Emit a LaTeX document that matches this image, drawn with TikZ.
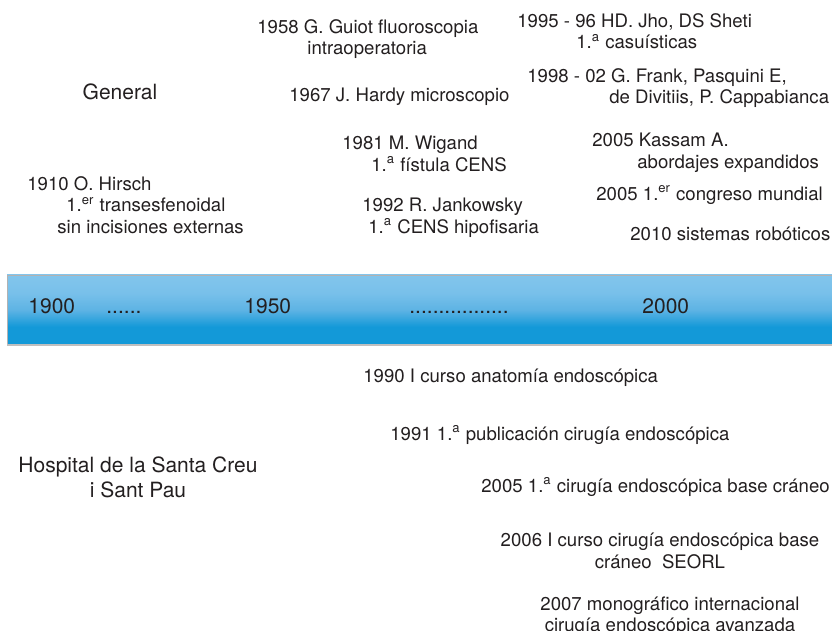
\documentclass[tikz,border=0pt]{standalone}
\usepackage{fontspec}
\setmainfont{TeX Gyre Heros}
\definecolor{inkblack}{HTML}{231F20}
\definecolor{bandtop}{HTML}{82C5EC}
\definecolor{bandlight}{HTML}{78C0EA}
\definecolor{bandmid}{HTML}{5DB3E4}
\definecolor{banddark}{HTML}{1399D8}
\pgfdeclareverticalshading{bandshade}{100bp}{color(0bp)=(banddark); color(38bp)=(banddark); color(50bp)=(bandmid); color(62bp)=(bandlight); color(75bp)=(bandtop); color(100bp)=(bandtop)}
\begin{document}
\begin{tikzpicture}[x=0.5pt, y=-0.5pt, inner sep=0pt]
\tikzstyle{event_style} = [anchor=north west, align=left, text=inkblack, font=\fontsize{9.3}{10.75}\selectfont]
\tikzstyle{centre_style} = [anchor=north, align=center, text=inkblack, font=\fontsize{9.3}{10.75}\selectfont]
\tikzstyle{head_style} = [anchor=north, align=center, text=inkblack, font=\fontsize{10.5}{12.5}\selectfont]
\tikzstyle{year_style} = [anchor=base west, text=inkblack, font=\fontsize{10.5}{12}\selectfont]

\useasboundingbox (0,0) rectangle (832,631);

% timeline band
\shade[shading=bandshade] (7,275) rectangle (832,345);
\draw[black!30, line width=0.4pt] (7,345) -- (7,275) -- (832,275);
\draw[black!25, line width=0.6pt] (7,345) -- (832,345);

\node[year_style] (y1900) at (28,314) {1900};
\node[year_style] (dots1) at (106,314) {......};
\node[year_style] (y1950) at (244,314) {1950};
\node[year_style] (dots2) at (409,314) {.................};
\node[year_style] (y2000) at (642,314) {2000};

% general
\node[head_style] (general) at (120,83) {General};
\node[event_style] (hirsch) at (27,176) {1910 O. Hirsch\\\hspace*{19.5pt}1.\textsuperscript{er} transesfenoidal\\\hspace*{15pt}sin incisiones externas};
\node[event_style] (guiot) at (257,19) {1958 G. Guiot fluoroscopia\\\hspace*{25pt}intraoperatoria};
\node[event_style] (hardy) at (289,88) {1967 J. Hardy microscopio};
\node[event_style] (wigand) at (342,136) {1981 M. Wigand\\\hspace*{14.5pt}1.\textsuperscript{a} fístula CENS};
\node[event_style] (jankowsky) at (362,198) {1992 R. Jankowsky\\\hspace*{3pt}1.\textsuperscript{a} CENS hipofisaria};
\node[event_style] (jho) at (517,13) {1995 - 96 HD. Jho, DS Sheti\\\hspace*{29.5pt}1.\textsuperscript{a} casuísticas};
\node[event_style] (frank) at (527,68) {1998 - 02 G. Frank, Pasquini E,\\\hspace*{41pt}de Divitiis, P. Cappabianca};
\node[event_style] (kassam) at (592,133) {2005 Kassam A.\\\hspace*{22.5pt}abordajes expandidos};
\node[event_style] (congreso) at (596,185) {2005 1.\textsuperscript{er} congreso mundial};
\node[event_style] (roboticos) at (630,227) {2010 sistemas robóticos};

% hospital
\node[head_style] (hospital) at (138,456) {Hospital de la Santa Creu\\i Sant Pau};
\node[event_style] (curso) at (363,369) {1990 I curso anatomía endoscópica};
\node[event_style] (publicacion) at (390,425) {1991 1.\textsuperscript{a} publicación cirugía endoscópica};
\node[event_style] (craneo) at (481,477) {2005 1.\textsuperscript{a} cirugía endoscópica base cráneo};
\node[centre_style] (seorl) at (660,533) {2006 I curso cirugía endoscópica base\\cráneo\ \ SEORL};
\node[centre_style] (monografico) at (670,596) {2007 monográfico internacional\\cirugía endoscópica avanzada};
\end{tikzpicture}
\end{document}
